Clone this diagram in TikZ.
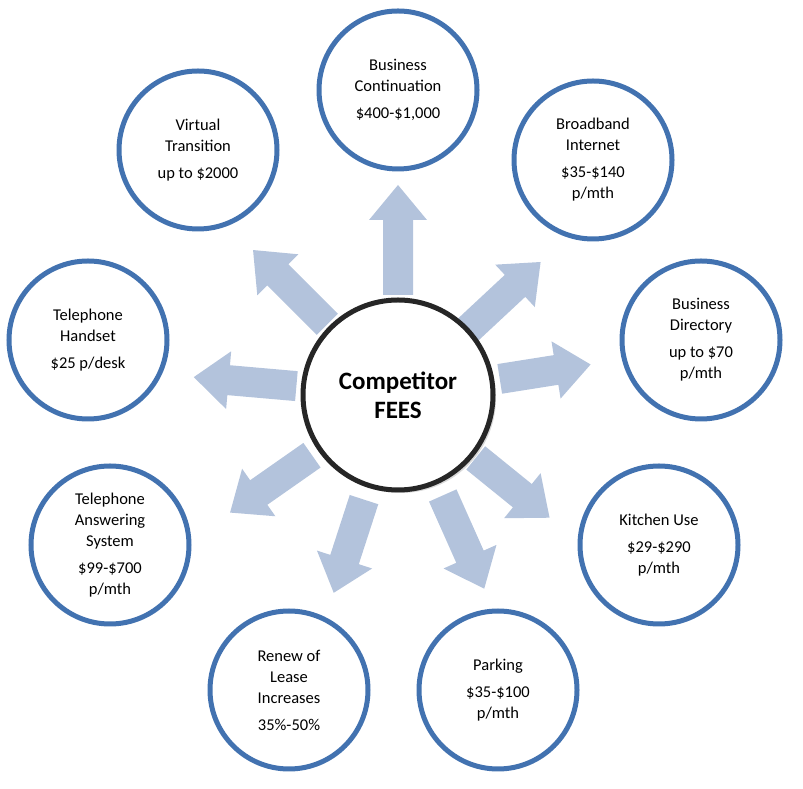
\documentclass[tikz,border=0pt]{standalone}
\usepackage{fontspec}
\setmainfont{Carlito}
\usetikzlibrary{shadows}
\begin{document}
\begin{tikzpicture}[x=1pt,y=1pt,
  outer/.style={circle,line width=5pt,fill=white,minimum size=158pt,align=center,font=\fontsize{16.5}{21}\selectfont,inner sep=0pt},
  arrowfill/.style={fill=arrowc}]
\definecolor{ringc}{HTML}{4272B0}
\definecolor{arrowc}{HTML}{B3C3DC}
\tikzset{outer/.append style={draw=ringc}}
\useasboundingbox (0,0) rectangle (803,789);
\coordinate (c) at (398,394);
\foreach \a/\s/\e in {90/100/210, 43/95/195, 9/103/195, -39/100/195, -66/110/212, -108/110/208, -145/105/205, 175/102/205, 135/100/205}{
  \fill[arrowfill,shift={(c)},rotate=\a]
    (\s,-15)--(\e-35,-15)--(\e-35,-29)--(\e,0)--(\e-35,29)--(\e-35,15)--(\s,15)--cycle;
}
\node[circle,draw=black!85,line width=5pt,fill=white,minimum size=190pt,align=center,
  font=\fontsize{25}{29}\selectfont\bfseries,drop shadow={opacity=0.3,shadow xshift=3pt,shadow yshift=-3pt}] (ctr) at (c) {Competitor\\FEES};
\node[outer] (bc) at (398,699) {Business\\Continuation\\[6pt]\$400-\$1,000};
\node[outer] (bb) at (593,629) {Broadband\\Internet\\[6pt]\$35-\$140\\p/mth};
\node[outer] (bd) at (701,449) {Business\\Directory\\[6pt]up to \$70\\p/mth};
\node[outer] (ku) at (659,244) {Kitchen Use\\[6pt]\$29-\$290\\p/mth};
\node[outer] (pk) at (498,99) {Parking\\[6pt]\$35-\$100\\p/mth};
\node[outer] (rl) at (289,99) {Renew of\\Lease\\Increases\\[6pt]35\%-50\%};
\node[outer] (ta) at (110,244) {Telephone\\Answering\\System\\[6pt]\$99-\$700\\p/mth};
\node[outer] (th) at (88,449) {Telephone\\Handset\\[6pt]\$25 p/desk};
\node[outer] (vt) at (198,639) {Virtual\\Transition\\[6pt]up to \$2000};
\end{tikzpicture}
\end{document}
